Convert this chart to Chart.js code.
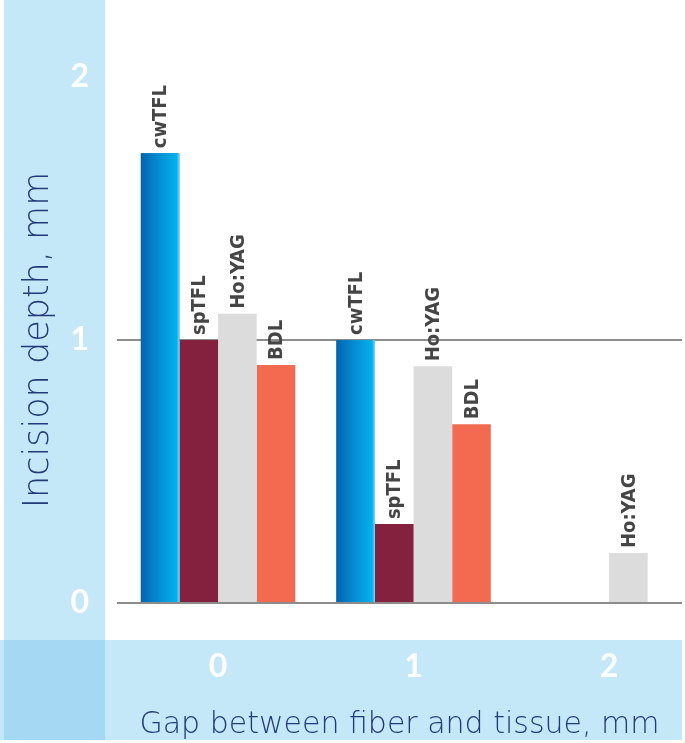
<!DOCTYPE html>
<html>
<head>
<meta charset="utf-8">
<script src="https://cdn.jsdelivr.net/npm/chart.js@4.4.0/dist/chart.umd.min.js"></script>
<style>
  html, body { margin: 0; padding: 0; background: #ffffff; }
  #wrap { width: 685px; height: 743px; }
</style>
</head>
<body>
<div id="wrap"><canvas id="c" width="685" height="743"></canvas></div>
<script>
// ---- data ----
const gapLabels = ['0', '1', '2'];          // gap between fiber and tissue, mm
const gapValues = [0, 1, 2];
const seriesNames = ['cwTFL', 'spTFL', 'Ho:YAG', 'BDL'];
const cwTFL = [1.71, 1.00, null];
const spTFL = [1.00, 0.30, null];
const hoYAG = [1.10, 0.90, 0.19];
const bdl   = [0.905, 0.68, null];
const yTickValues = [0, 1, 2];

const seriesValues = [cwTFL, spTFL, hoYAG, bdl];
const seriesColors = ['#0a7fc6', '#84213f', '#dcdcdc', '#f26b51'];

const BAND = '#c5e8f8';
const BAND_DARK = '#a4d8f3';
const TITLE_FONT = '"DejaVu Sans", "Open Sans", sans-serif';
const TICK_FONT = 'Lato, "Open Sans", sans-serif';

const bandsPlugin = {
  id: 'bands',
  beforeDraw(chart) {
    const ctx = chart.ctx;
    ctx.save();
    ctx.fillStyle = '#ffffff';
    ctx.fillRect(0, 0, chart.width, chart.height);
    ctx.fillStyle = BAND;
    ctx.fillRect(4, 0, 101, 740);
    ctx.fillRect(0, 640, 682, 100);
    ctx.fillStyle = BAND_DARK;
    ctx.fillRect(4, 640, 101, 100);
    ctx.restore();
  }
};

// horizontal blue gradient on the cwTFL bars, painted on the bar elements' own boxes
const gradientPlugin = {
  id: 'cwGradient',
  afterDatasetDraw(chart, args) {
    if (args.index !== 0) return;
    const ctx = chart.ctx;
    args.meta.data.forEach((el, i) => {
      const raw = chart.data.datasets[0].data[i];
      if (!raw || raw.y === null) return;
      const p = el.getProps(['x', 'y', 'base', 'width'], true);
      const left = p.x - p.width / 2;
      const g = ctx.createLinearGradient(left, 0, left + p.width, 0);
      g.addColorStop(0, '#0464ae');
      g.addColorStop(0.5, '#0590d6');
      g.addColorStop(0.93, '#02b2ec');
      g.addColorStop(1, '#8ad8f6');
      ctx.save();
      ctx.fillStyle = g;
      ctx.fillRect(left, p.y, p.width, p.base - p.y);
      ctx.restore();
    });
  }
};

const barLabelPlugin = {
  id: 'barLabels',
  afterDatasetsDraw(chart) {
    const ctx = chart.ctx;
    ctx.save();
    ctx.fillStyle = '#454545';
    ctx.font = 'bold 20px "DejaVu Sans Condensed", "DejaVu Sans", sans-serif';
    ctx.textAlign = 'left';
    ctx.textBaseline = 'middle';
    chart.data.datasets.forEach((ds, di) => {
      const meta = chart.getDatasetMeta(di);
      meta.data.forEach((el, i) => {
        const v = ds.data[i] && ds.data[i].y;
        if (v === null || v === undefined) return;
        ctx.save();
        ctx.translate(el.x + 1, el.y - 5);
        ctx.rotate(-Math.PI / 2);
        ctx.fillText(ds.label, 0, 0);
        ctx.restore();
      });
    });
    ctx.restore();
  }
};

const datasets = seriesNames.map((name, si) => ({
  label: name,
  data: gapValues.map((g, i) => ({ x: g, y: seriesValues[si][i] })),
  backgroundColor: seriesColors[si],
  borderWidth: 0,
  categoryPercentage: 0.79,
  barPercentage: 1.0
}));

new Chart(document.getElementById('c'), {
  type: 'bar',
  data: { datasets },
  options: {
    responsive: false,
    animation: false,
    devicePixelRatio: 1,
    layout: { padding: { top: 77, right: 3, left: 0, bottom: 0 } },
    plugins: {
      legend: { display: false },
      tooltip: { enabled: false }
    },
    scales: {
      x: {
        type: 'linear',
        offset: false,
        min: -0.517,
        max: 2.373,
        afterFit(scale) { scale.height = 140; },
        grid: { display: false, drawTicks: false, offset: false },
        border: { display: false },
        ticks: {
          stepSize: 1,
          includeBounds: false,
          padding: 44,
          color: '#ffffff',
          font: { family: TICK_FONT, size: 32, weight: 'bold' },
          callback: (v) => { const k = gapValues.indexOf(v); return k >= 0 ? gapLabels[k] : ''; }
        },
        title: {
          display: true,
          text: 'Gap between fiber and tissue, mm',
          color: '#233a7a',
          font: { family: TITLE_FONT, size: 30, weight: 300 },
          padding: { top: 19, bottom: 0 }
        }
      },
      y: {
        min: 0,
        max: 2,
        afterFit(scale) { scale.width = 117; },
        afterBuildTicks(scale) { scale.ticks = yTickValues.map(v => ({ value: v })); },
        grid: {
          drawTicks: false,
          lineWidth: 2,
          color: (c) => (c.tick && c.tick.value === 2) ? 'rgba(0,0,0,0)' : '#8c8c8c'
        },
        border: { display: false },
        ticks: {
          stepSize: 1,
          padding: 28,
          color: '#ffffff',
          font: { family: TICK_FONT, size: 32, weight: 'bold' }
        },
        title: {
          display: true,
          text: 'Incision depth, mm',
          color: '#233a7a',
          font: { family: TITLE_FONT, size: 35, weight: 300 },
          padding: { top: 18, bottom: 0 }
        }
      }
    }
  },
  plugins: [bandsPlugin, gradientPlugin, barLabelPlugin]
});
</script>
</body>
</html>
